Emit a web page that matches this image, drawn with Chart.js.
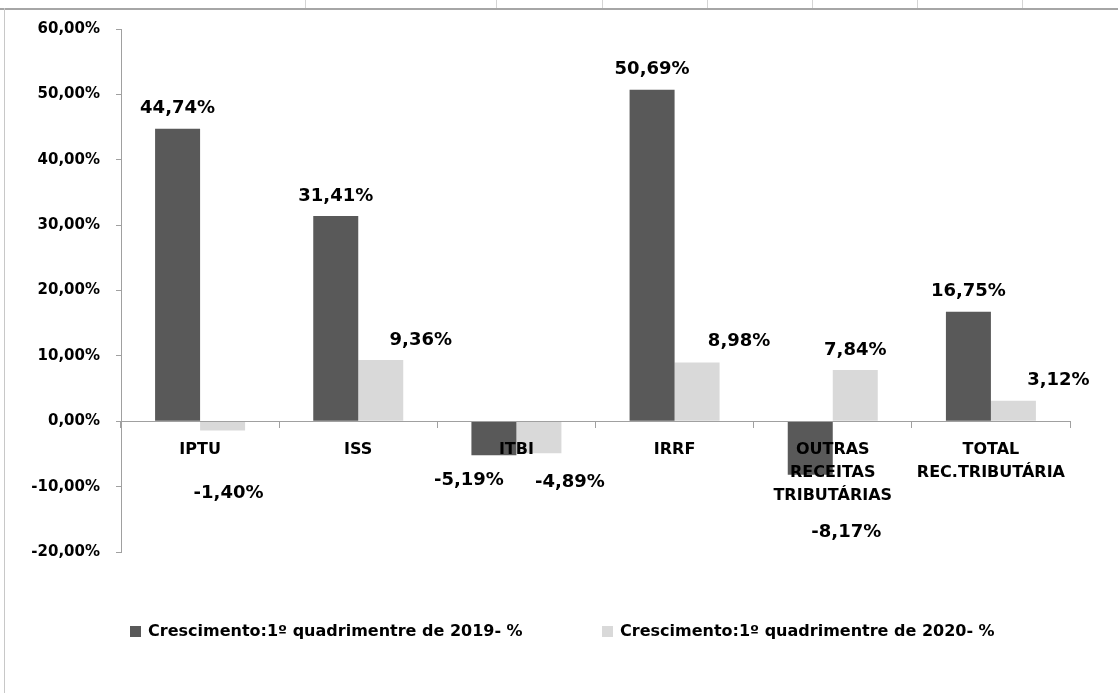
<!DOCTYPE html>
<html>
<head>
<meta charset="utf-8">
<script src="https://cdn.jsdelivr.net/npm/chart.js@4.4.0/dist/chart.umd.min.js"></script>
<style>
    html, body { margin: 0; padding: 0; background: #fff; }
    body { width: 1118px; height: 693px; position: relative; overflow: hidden; font-family: "DejaVu Sans", sans-serif; }
    #grafico { position: absolute; left: 0; top: 0; }
    .celula { position: absolute; top: 0; width: 1px; height: 8px; background: #d4d4d4; }
    .linhaTopo { position: absolute; left: 0; right: 0; top: 8px; height: 2px; background: #a6a6a6; }
    .linhaEsq { position: absolute; left: 4px; top: 8px; bottom: 0; width: 1px; background: #c8c8c8; }
    .legenda { position: absolute; top: 621px; font: bold 16px "DejaVu Sans"; color: #000; white-space: nowrap; line-height: 19px; }
    .legenda span { display: inline-block; width: 11px; height: 11px; margin-right: 7px; vertical-align: -1px; }
</style>
</head>
<body>
<div class="celula" style="left:305px"></div>
<div class="celula" style="left:496px"></div>
<div class="celula" style="left:602px"></div>
<div class="celula" style="left:707px"></div>
<div class="celula" style="left:812px"></div>
<div class="celula" style="left:917px"></div>
<div class="celula" style="left:1022px"></div>
<div class="linhaTopo"></div>
<div class="linhaEsq"></div>
<canvas id="grafico" width="1118" height="693"></canvas>
<div class="legenda" id="leg0" style="left:130px"></div>
<div class="legenda" id="leg1" style="left:602px"></div>
<script>
var categorias = [['IPTU'], ['ISS'], ['ITBI'], ['IRRF'], ['OUTRAS', 'RECEITAS', 'TRIBUTÁRIAS'], ['TOTAL', 'REC.TRIBUTÁRIA']];
var crescimento2019 = [44.74, 31.41, -5.19, 50.69, -8.17, 16.75];
var crescimento2020 = [-1.40, 9.36, -4.89, 8.98, 7.84, 3.12];
var ticksY = [-20, -10, 0, 10, 20, 30, 40, 50, 60];
var nomesSeries = ['Crescimento:1º quadrimentre de 2019- %', 'Crescimento:1º quadrimentre de 2020- %'];

var corEscura = '#595959';
var corClara = '#d9d9d9';
var corEixo = '#a0a0a0';
var fonte = 'DejaVu Sans';

function formatar(valor) {
    return valor.toFixed(2).replace('.', ',') + '%';
}

// rotulos das barras (posicionados a mao no original)
var rotulosBarras = {
    id: 'rotulosBarras',
    afterDatasetsDraw: function (chart, args, opts) {
        var ctx = chart.ctx;
        ctx.save();
        ctx.font = 'bold 18px "' + fonte + '"';
        ctx.fillStyle = '#000';
        ctx.textAlign = 'center';
        ctx.textBaseline = 'middle';
        chart.data.datasets.forEach(function (ds, i) {
            var meta = chart.getDatasetMeta(i);
            meta.data.forEach(function (bar, j) {
                var d = opts.deslocamentos[i][j];
                ctx.fillText(formatar(ds.data[j]), bar.x + d[0], bar.y + d[1]);
            });
        });
        ctx.restore();
    }
};

document.getElementById('leg0').innerHTML = '<span style="background:' + corEscura + '"></span>' + nomesSeries[0];
document.getElementById('leg1').innerHTML = '<span style="background:' + corClara + '"></span>' + nomesSeries[1];

var ctxGrafico = document.getElementById('grafico').getContext('2d');
var graficoInstance = new Chart(ctxGrafico, {
    type: 'bar',
    data: {
        labels: categorias,
        datasets: [{
            label: nomesSeries[0],
            data: crescimento2019,
            backgroundColor: corEscura,
            categoryPercentage: 0.569,
            barPercentage: 1
        }, {
            label: nomesSeries[1],
            data: crescimento2020,
            backgroundColor: corClara,
            categoryPercentage: 0.569,
            barPercentage: 1
        }]
    },
    plugins: [rotulosBarras],
    options: {
        responsive: false,
        animation: false,
        layout: {
            padding: { left: 0, right: 48, top: 29, bottom: 141 }
        },
        plugins: {
            legend: { display: false },
            tooltip: { enabled: false },
            rotulosBarras: {
                deslocamentos: [
                    [[0, -20], [0, -20], [-25, 25], [0, -21], [36, 58], [0, -20]],
                    [[6, 63], [40, -20], [31, 29], [42, -21], [0, -20], [45, -21]]
                ]
            }
        },
        scales: {
            x: {
                position: { y: 0 },
                grid: { offset: true, drawOnChartArea: false, tickLength: 6, color: corEixo, z: 1 },
                border: { color: corEixo, width: 1, z: 1 },
                ticks: {
                    z: 1,
                    color: '#000',
                    padding: 11,
                    autoSkip: false,
                    maxRotation: 0,
                    font: { family: fonte, weight: 'bold', size: 16, lineHeight: 1.44 }
                }
            },
            y: {
                min: -20,
                max: 60,
                afterFit: function (scale) { scale.width = 121; },
                afterBuildTicks: function (scale) {
                    scale.ticks = ticksY.map(function (v) { return { value: v }; });
                },
                grid: { drawOnChartArea: false, tickLength: 5, color: corEixo },
                border: { color: corEixo, width: 1 },
                ticks: {
                    color: '#000',
                    padding: 16,
                    font: { family: fonte, weight: 'bold', size: 15 },
                    callback: function (value) { return formatar(value); }
                }
            }
        }
    }
});
</script>
</body>
</html>
